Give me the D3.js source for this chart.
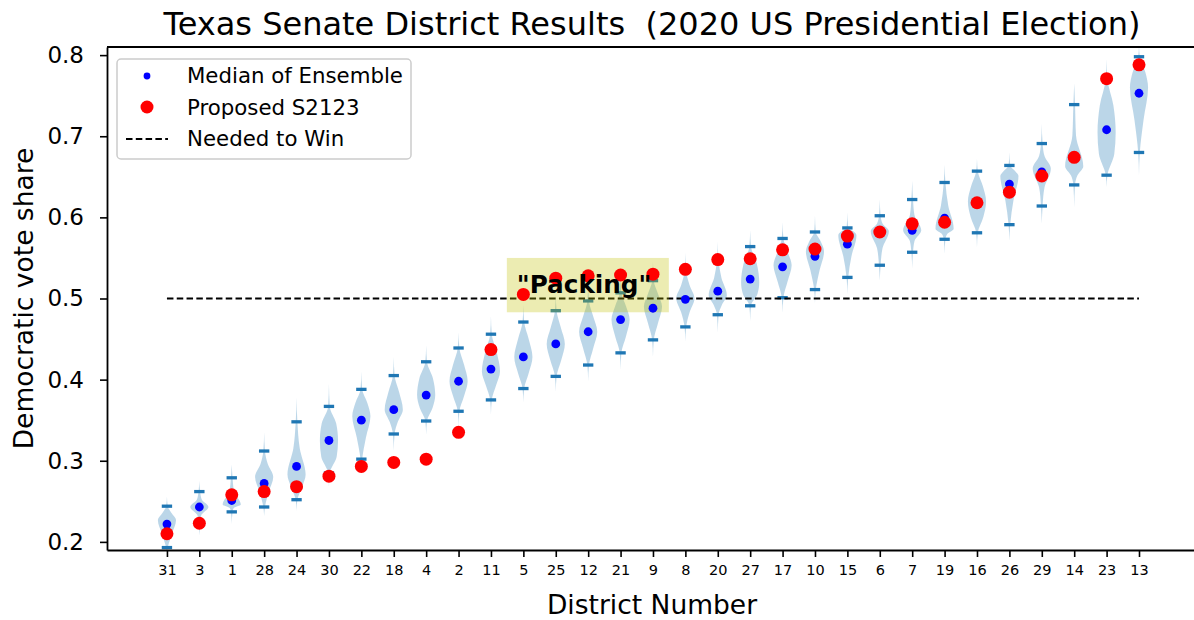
<!DOCTYPE html>
<html>
<head>
<meta charset="utf-8">
<script src="https://cdn.jsdelivr.net/npm/d3@7"></script>
<style>
  html, body { margin: 0; padding: 0; background: #fff; }
  svg { display: block; font-family: "DejaVu Sans", sans-serif; }
</style>
</head>
<body>
<svg id="chart" width="1194" height="620"></svg>
<script>
// ---- data ----
const districts = [31,3,1,28,24,30,22,18,4,2,11,5,25,12,21,9,8,20,27,17,10,15,6,7,19,16,26,29,14,23,13];
const medianVals = [0.222,0.243,0.251,0.272,0.293,0.325,0.350,0.363,0.381,0.398,0.413,0.428,0.444,0.459,0.474,0.488,0.499,0.509,0.524,0.539,0.552,0.567,0.582,0.584,0.599,0.619,0.641,0.656,0.673,0.708,0.753];
const proposedVals = [0.210,0.223,0.258,0.262,0.268,0.281,0.293,0.298,0.302,0.335,0.437,0.505,0.525,0.528,0.529,0.530,0.536,0.548,0.549,0.560,0.561,0.577,0.582,0.592,0.594,0.618,0.631,0.651,0.674,0.771,0.788];
const capHigh = [0.244,0.262,0.279,0.312,0.348,0.367,0.388,0.405,0.422,0.439,0.456,0.471,0.485,0.497,0.507,0.522,0.534,0.547,0.564,0.574,0.582,0.587,0.602,0.622,0.643,0.657,0.664,0.691,0.739,0.771,0.798];
const capLow = [0.193,0.222,0.237,0.243,0.252,0.285,0.302,0.333,0.349,0.361,0.375,0.389,0.404,0.418,0.433,0.449,0.465,0.480,0.491,0.501,0.511,0.526,0.541,0.557,0.573,0.581,0.591,0.614,0.640,0.652,0.680];
const tailHigh = [0.256,0.275,0.295,0.335,0.378,0.395,0.410,0.428,0.442,0.458,0.478,0.492,0.505,0.518,0.530,0.545,0.556,0.570,0.584,0.594,0.602,0.606,0.622,0.645,0.665,0.672,0.680,0.715,0.765,0.795,0.812];
const tailLow = [0.188,0.208,0.222,0.232,0.238,0.268,0.287,0.312,0.332,0.342,0.357,0.372,0.385,0.398,0.412,0.428,0.447,0.458,0.472,0.482,0.494,0.505,0.522,0.537,0.555,0.563,0.571,0.592,0.612,0.637,0.652];
const modeVals = [0.227,0.243,0.246,0.280,0.283,0.325,0.355,0.363,0.381,0.398,0.410,0.428,0.444,0.459,0.474,0.490,0.500,0.504,0.520,0.541,0.558,0.578,0.583,0.584,0.586,0.620,0.651,0.660,0.663,0.705,0.760];
const densityLow = [0.55,0.2,0.2,0.5,0.6,0.85,0.5,0.45,0.7,0.6,0.55,0.6,0.6,0.55,0.6,0.55,0.45,0.45,0.8,0.55,0.5,0.45,0.3,0.25,0.3,0.7,0.45,0.3,0.35,0.85,0.5];
const densityHigh = [0.5,0.25,0.25,0.4,0.35,0.8,0.65,0.6,0.75,0.6,0.65,0.6,0.55,0.55,0.6,0.55,0.45,0.4,0.75,0.55,0.65,0.7,0.3,0.25,0.4,0.65,0.6,0.3,0.2,0.75,0.7];
const yTicks = [0.2,0.3,0.4,0.5,0.6,0.7,0.8];
const winThreshold = 0.5;
const titleText = "Texas Senate District Results  (2020 US Presidential Election)";

// ---- layout ----
const svg = d3.select("#chart");
const L = 107, R = 1197, T = 47, B = 550;
const positions = districts.map((d, i) => i + 1);
const x = d3.scaleLinear().domain([-0.85, 32.79]).range([L, R]);
const y = d3.scaleLinear().domain([0.19, 0.81]).range([B, T]);
const halfW = 0.28; // max half width in category units

svg.append("defs").append("clipPath").attr("id", "clip")
  .append("rect").attr("x", L).attr("y", T).attr("width", R - L).attr("height", B - T);

const plot = svg.append("g").attr("clip-path", "url(#clip)");

// violins
const area = d3.area()
  .y(d => y(d[0]))
  .x0(d => d.x0)
  .x1(d => d.x1)
  .curve(d3.curveMonotoneY);

positions.forEach((p, i) => {
  const prof = [
    [tailLow[i], 0],
    [capLow[i], 0.09],
    [(capLow[i] + modeVals[i]) / 2, densityLow[i]],
    [modeVals[i], 1],
    [(capHigh[i] + modeVals[i]) / 2, densityHigh[i]],
    [capHigh[i], 0.09],
    [tailHigh[i], 0]
  ].map(d => { const o = [d[0], d[1]]; o.x0 = x(p - d[1] * halfW); o.x1 = x(p + d[1] * halfW); return o; });
  plot.append("path").attr("d", area(prof))
    .attr("fill", "#1f77b4").attr("fill-opacity", 0.3).attr("stroke", "none");
});

// caps
const capHalf = 0.16;
positions.forEach((p, i) => {
  [capLow[i], capHigh[i]].forEach(v => {
    plot.append("line")
      .attr("x1", x(p - capHalf)).attr("x2", x(p + capHalf))
      .attr("y1", y(v)).attr("y2", y(v))
      .attr("stroke", "#1f77b4").attr("stroke-width", 3.3);
  });
});

// needed to win line
plot.append("line")
  .attr("x1", x(1)).attr("x2", x(districts.length))
  .attr("y1", y(winThreshold)).attr("y2", y(winThreshold))
  .attr("stroke", "#000").attr("stroke-width", 1.8).attr("stroke-dasharray", "6.5,3.3");

// packing box
const boxX0 = 11.49, boxX1 = 16.49, boxY0 = 0.483, boxY1 = 0.550;
plot.append("rect")
  .attr("x", x(boxX0)).attr("y", y(boxY1))
  .attr("width", x(boxX1) - x(boxX0)).attr("height", y(boxY0) - y(boxY1))
  .attr("fill", "#bfbf00").attr("fill-opacity", 0.3);

// median dots
plot.selectAll("circle.med").data(medianVals).enter().append("circle")
  .attr("class", "med")
  .attr("cx", (d, i) => x(positions[i])).attr("cy", d => y(d)).attr("r", 4.4)
  .attr("fill", "#0000ff");

// proposed dots
plot.selectAll("circle.prop").data(proposedVals).enter().append("circle")
  .attr("class", "prop")
  .attr("cx", (d, i) => x(positions[i])).attr("cy", d => y(d)).attr("r", 6.5)
  .attr("fill", "#ff0000");

// packing text
svg.append("text")
  .attr("x", x(boxX0) + 10).attr("y", y(0.5) - 6)
  .attr("font-size", 24.7).attr("font-weight", "bold")
  .attr("fill", "#000")
  .text('"Packing"');

// axes
const yAxis = d3.axisLeft(y).tickValues(yTicks).tickFormat(d3.format(".1f"))
  .tickSize(7).tickSizeOuter(0).tickPadding(16);
const gy = svg.append("g").attr("transform", `translate(${L},0)`).call(yAxis);
gy.selectAll("text").attr("font-size", 23).attr("fill", "#000").attr("font-family", "DejaVu Sans");
gy.selectAll("line").attr("stroke", "#000").attr("stroke-width", 1.6);
gy.select(".domain").attr("stroke", "#000").attr("stroke-width", 1.8);

const xAxis = d3.axisBottom(x).tickValues(positions).tickFormat((d) => districts[d - 1])
  .tickSize(7).tickSizeOuter(0).tickPadding(8);
const gx = svg.append("g").attr("transform", `translate(0,${B})`).call(xAxis);
gx.selectAll("text").attr("font-size", 14.5).attr("fill", "#000").attr("font-family", "DejaVu Sans");
gx.selectAll("line").attr("stroke", "#000").attr("stroke-width", 1.6);
gx.select(".domain").attr("stroke", "#000").attr("stroke-width", 1.8);

// top spine
svg.append("line").attr("x1", L).attr("x2", R).attr("y1", T).attr("y2", T)
  .attr("stroke", "#000").attr("stroke-width", 1.8);

// labels
svg.append("text").attr("x", (L + R) / 2).attr("y", 35).attr("text-anchor", "middle")
  .attr("font-size", 32).attr("fill", "#000").style("white-space", "pre").text(titleText);
svg.append("text").attr("x", (L + R) / 2).attr("y", 614).attr("text-anchor", "middle")
  .attr("font-size", 26.5).attr("fill", "#000").text("District Number");
svg.append("text").attr("transform", `translate(33,${(T + B) / 2}) rotate(-90)`)
  .attr("text-anchor", "middle")
  .attr("font-size", 26.5).attr("fill", "#000").text("Democratic vote share");

// legend
const lg = svg.append("g").attr("transform", "translate(117,59)");
lg.append("rect").attr("width", 294).attr("height", 100).attr("rx", 4)
  .attr("fill", "#fff").attr("fill-opacity", 0.8).attr("stroke", "#cccccc").attr("stroke-width", 1.5);
lg.append("circle").attr("cx", 30).attr("cy", 17).attr("r", 3.4).attr("fill", "#0000ff");
lg.append("circle").attr("cx", 30).attr("cy", 48).attr("r", 6.5).attr("fill", "#ff0000");
lg.append("line").attr("x1", 9).attr("x2", 51).attr("y1", 80).attr("y2", 80)
  .attr("stroke", "#000").attr("stroke-width", 1.8).attr("stroke-dasharray", "6.5,3.3");
const legTexts = ["Median of Ensemble", "Proposed S2123", "Needed to Win"];
legTexts.forEach((t, i) => {
  lg.append("text").attr("x", 70).attr("y", 17 + i * 31.5).attr("dy", "0.35em")
    .attr("font-size", 21.3).attr("fill", "#000").text(t);
});
</script>
</body>
</html>
